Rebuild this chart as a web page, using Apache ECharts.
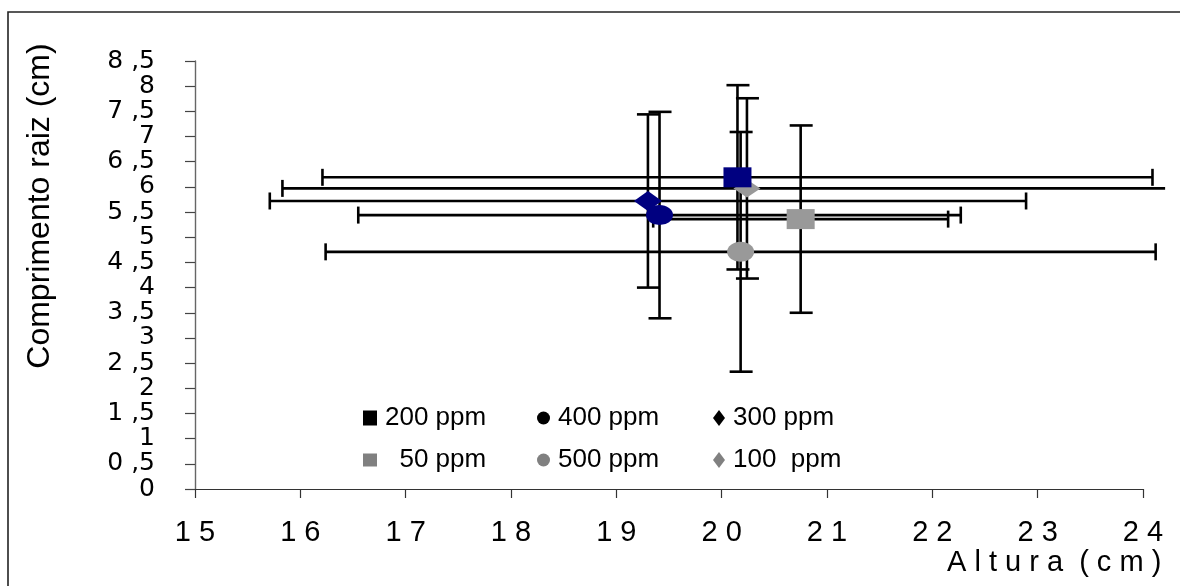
<!DOCTYPE html>
<html>
<head>
<meta charset="utf-8">
<script src="https://cdn.jsdelivr.net/npm/echarts@6/dist/echarts.min.js"></script>
<style>html,body{margin:0;padding:0;background:#fff}#c{width:1180px;height:586px}</style>
</head>
<body>
<div id="c"></div>
<script>
// ---- data ----
const seriesNames = ['200 ppm', '400 ppm', '300 ppm', '  50 ppm', '500 ppm', '100  ppm'];
const alturaMean  = [20.15, 19.41, 19.30, 20.75, 20.18, 20.24];
const raizMean    = [6.19, 5.44, 5.72, 5.36, 4.71, 5.97];
const alturaErr   = [3.94, 2.86, 3.59, 1.40, 3.94, 4.41];
const raizErr     = [1.83, 2.05, 1.72, 1.86, 2.38, 1.79];
const xTickValues = [15, 16, 17, 18, 19, 20, 21, 22, 23, 24];
const xTickLabels = ['1 5', '1 6', '1 7', '1 8', '1 9', '2 0', '2 1', '2 2', '2 3', '2 4'];
const yTickValues = [0, 0.5, 1, 1.5, 2, 2.5, 3, 3.5, 4, 4.5, 5, 5.5, 6, 6.5, 7, 7.5, 8, 8.5];
const yTickLabels = ['0', '0 ,5', '1', '1 ,5', '2', '2 ,5', '3', '3 ,5', '4', '4 ,5', '5', '5 ,5', '6', '6 ,5', '7', '7 ,5', '8', '8 ,5'];
const xTitle = 'A l t u r a  ( c m )';
const yTitle = 'Comprimento raiz (cm)';

// ---- styles ----
const NAVY = '#000080', GRAY = '#999999';
const styleBy = {
  '200 ppm':  {symbol: 'rect',    size: [28, 20], color: NAVY, legIcon: 'rect',    legColor: '#000000'},
  '400 ppm':  {symbol: 'circle',  size: [27, 20], color: NAVY, legIcon: 'circle',  legColor: '#000000'},
  '300 ppm':  {symbol: 'diamond', size: [28, 20], color: NAVY, legIcon: 'diamond', legColor: '#000000'},
  '  50 ppm': {symbol: 'rect',    size: [28, 20], color: GRAY, legIcon: 'rect',    legColor: '#808080'},
  '500 ppm':  {symbol: 'circle',  size: [27, 20], color: GRAY, legIcon: 'circle',  legColor: '#808080'},
  '100  ppm': {symbol: 'diamond', size: [27, 18], color: GRAY, legIcon: 'diamond', legColor: '#808080'}
};
const drawOrder = ['  50 ppm', '500 ppm', '300 ppm', '400 ppm', '100  ppm', '200 ppm'];
const legendPlace = {
  '200 ppm':  {left: 363, top: 405, w: 14, h: 15},
  '400 ppm':  {left: 537, top: 405, w: 13, h: 13},
  '300 ppm':  {left: 713, top: 405, w: 12, h: 16},
  '  50 ppm': {left: 363, top: 447, w: 14, h: 13},
  '500 ppm':  {left: 537, top: 447, w: 13, h: 13},
  '100  ppm': {left: 713, top: 447, w: 12, h: 16}
};
const X_CLIP = 24.21; // right edge of the original drawing area

const errData = seriesNames.map((n, i) => [alturaMean[i], raizMean[i], alturaErr[i], raizErr[i]]);

const chart = echarts.init(document.getElementById('c'), null, {renderer: 'canvas'});

const series = [{
  type: 'custom',
  name: 'err',
  z: 1,
  clip: false,
  silent: true,
  data: errData,
  renderItem: function (params, api) {
    const x = api.value(0), y = api.value(1), ex = api.value(2), ey = api.value(3);
    const st = {stroke: '#000', lineWidth: 2.6};
    const children = [];
    const xl = x - ex, xr = Math.min(x + ex, X_CLIP);
    const pL = api.coord([xl, y]), pR = api.coord([xr, y]);
    children.push({type: 'line', shape: {x1: pL[0], y1: pL[1], x2: pR[0], y2: pR[1]}, style: st});
    children.push({type: 'line', shape: {x1: pL[0], y1: pL[1] - 8.5, x2: pL[0], y2: pL[1] + 8.5}, style: st});
    if (x + ex <= X_CLIP) children.push({type: 'line', shape: {x1: pR[0], y1: pR[1] - 8.5, x2: pR[0], y2: pR[1] + 8.5}, style: st});
    const pT = api.coord([x, y + ey]), pB = api.coord([x, y - ey]);
    children.push({type: 'line', shape: {x1: pT[0], y1: pT[1], x2: pB[0], y2: pB[1]}, style: st});
    children.push({type: 'line', shape: {x1: pT[0] - 11, y1: pT[1], x2: pT[0] + 12, y2: pT[1]}, style: st});
    children.push({type: 'line', shape: {x1: pB[0] - 11, y1: pB[1], x2: pB[0] + 12, y2: pB[1]}, style: st});
    return {type: 'group', children: children};
  }
}];
drawOrder.forEach(n => {
  const i = seriesNames.indexOf(n);
  const s = styleBy[n];
  series.push({
    type: 'scatter', name: n, z: 2,
    symbol: s.symbol, symbolSize: s.size,
    itemStyle: {color: s.color, opacity: 1},
    emphasis: {disabled: true},
    data: [[alturaMean[i], raizMean[i]]]
  });
});

const legends = seriesNames.map(n => {
  const p = legendPlace[n], s = styleBy[n];
  return {
    left: p.left, top: p.top, padding: 0, orient: 'horizontal',
    itemWidth: p.w, itemHeight: p.h, selectedMode: false,
    textStyle: {fontFamily: 'Liberation Sans', fontSize: 26, color: '#000', padding: [0, 0, 0, 3]},
    data: [{name: n, icon: s.legIcon, itemStyle: {color: s.legColor, borderWidth: 0}}]
  };
});

const option = {
  animation: false,
  backgroundColor: '#fff',
  grid: {left: 195, right: 37, top: 61, bottom: 97, containLabel: false},
  xAxis: {
    type: 'value', min: 15, max: 24, interval: 1,
    axisLine: {show: true, lineStyle: {color: '#333', width: 1.2}},
    axisTick: {show: true, inside: false, length: 9, lineStyle: {color: '#333', width: 1.2}},
    splitLine: {show: false},
    axisLabel: {
      margin: 29, fontFamily: 'Liberation Sans', fontSize: 29, color: '#000',
      formatter: v => xTickLabels[xTickValues.indexOf(v)]
    }
  },
  yAxis: {
    type: 'value', min: 0, max: 8.5, interval: 0.5,
    axisLine: {show: true, lineStyle: {color: '#666', width: 1.4}},
    axisTick: {show: true, inside: false, length: 10, lineStyle: {color: '#444', width: 1.2}},
    splitLine: {show: false},
    axisLabel: {
      margin: 40, fontFamily: 'DejaVu Sans', fontSize: 25, color: '#000',
      formatter: v => yTickLabels[yTickValues.indexOf(v)]
    }
  },
  legend: legends,
  series: series,
  graphic: [
    {type: 'polyline', z: 0, silent: true, shape: {points: [[8, 700], [8, 12], [1200, 12]]}, style: {stroke: '#222', lineWidth: 1.6, fill: null}},
    {type: 'text', silent: true, x: 40, y: 206, rotation: Math.PI / 2,
      style: {text: yTitle, fontFamily: 'Liberation Sans', fontSize: 32, fill: '#000', align: 'center', verticalAlign: 'middle'}},
    {type: 'text', silent: true, x: 947, y: 563,
      style: {text: xTitle, fontFamily: 'Liberation Sans', fontSize: 29, fill: '#000', align: 'left', verticalAlign: 'middle'}}
  ]
};
chart.setOption(option);
</script>
</body>
</html>
